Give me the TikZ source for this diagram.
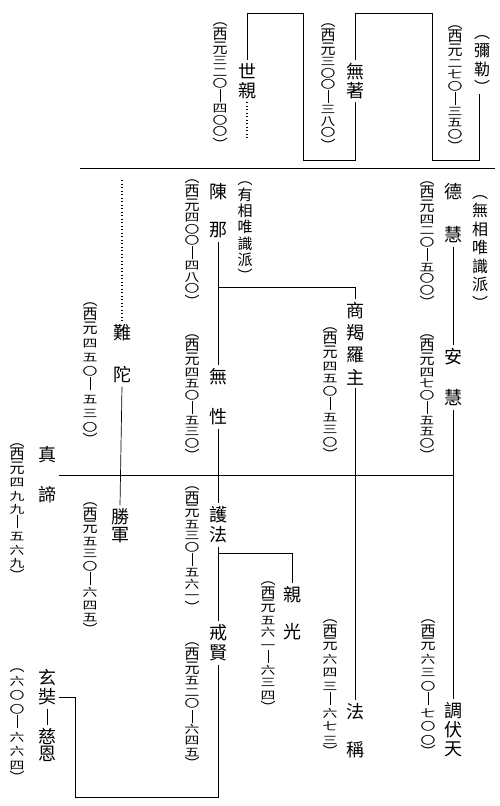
\documentclass[tikz,border=0pt]{standalone}
\usepackage{fontspec}
\setmainfont{Noto Sans CJK TC}
\newfontfamily\datefont{Noto Sans CJK TC}[FakeStretch=1.35]
\newcommand\dz[1]{{\rmfamily\fontsize{15}{15}\selectfont #1}}
\newcommand\vd{\rule[-1pt]{0.7pt}{13pt}}
\newcommand\nian[6]{\dz{︵}\\\dz{西}\\\dz{元}\\#1\\#2\\#3\\\vd\\#4\\#5\\#6\\\dz{︶}}
\begin{document}
\begin{tikzpicture}[x=1pt, y=-1pt, line width=0.7pt,
    master/.style={font=\fontsize{18}{#1}\selectfont, align=center, inner sep=3pt},
    master/.default=20,
    sect/.style={font=\fontsize{16}{#1}\selectfont, align=center, inner sep=0pt},
    years/.style={font=\datefont\fontsize{11}{#1}\selectfont, align=center, inner sep=0pt},
    years/.default=11.5,
    dotline/.style={line width=1.1pt, dash pattern=on 1.1pt off 2.4pt}]
    \useasboundingbox (0,0) rectangle (500,806);
    % 彌勒 -- 無著 -- 世親
    \node[sect=18.5] (mile) at (482,64.5) {︵\\彌\\勒\\︶};
    \node[years] (mile-y) at (455,89) {\nian{二}{七}{〇}{三}{五}{〇}};
    \node[master=19] (wuzhu) at (355,81) {無\\著};
    \node[years] (wuzhu-y) at (328,87.5) {\nian{三}{〇}{〇}{三}{八}{〇}};
    \node[master=19] (shiqin) at (247,81) {世\\親};
    \node[years] (shiqin-y) at (220,86.5) {\nian{三}{二}{〇}{四}{〇}{〇}};
    \coordinate (m1) at (432,160);
    \coordinate (m2) at (432,13);
    \coordinate (m3) at (303,160);
    \coordinate (m4) at (303,13);
    \coordinate (m5) at (247,140);
    \draw ([xshift=-3pt]mile.south) |- (m1) -- (m2) -| (wuzhu.north);
    \draw (wuzhu.south) |- (m3) -- (m4) -| (shiqin.north);
    \draw[dotline] (shiqin.south) -- (m5);
    \coordinate (s1) at (80,168);
    \coordinate (s2) at (495,168);
    \draw (s1) -- (s2);

    % 無相唯識派
    \node[master=43] (dehui) at (453,213.5) {德\\慧};
    \node[sect=18.5] (wuxiang) at (480,252.5) {︵\\無\\相\\唯\\識\\派\\︶};
    \node[years] (dehui-y) at (427,245) {\nian{四}{二}{〇}{五}{〇}{〇}};
    \node[master=41] (anhui) at (453,377.5) {安\\慧};
    \node[years] (anhui-y) at (427,398) {\nian{四}{七}{〇}{五}{五}{〇}};
    \node[master=19] (tiaofutian) at (453,730) {調\\伏\\天};
    \node[years=13.5] (tiaofutian-y) at (428,689) {\nian{六}{三}{〇}{七}{〇}{〇}};
    \draw (dehui.south) -- (anhui.north);
    \draw (anhui.south) -- (tiaofutian.north);

    % 有相唯識派
    \node[master=38] (chenna) at (218,211) {陳\\那};
    \node[sect=16.2, font=\fontsize{15}{16.2}\selectfont] (youxiang) at (245,231.5) {︵\\有\\相\\唯\\識\\派\\︶};
    \node[years] (chenna-y) at (192,243.5) {\nian{四}{〇}{〇}{四}{八}{〇}};
    \node[master=22.3] (shangjieluo) at (355,343.5) {商\\羯\\羅\\主};
    \node[years=12.5] (shangjieluo-y) at (330,394) {\nian{四}{五}{〇}{五}{三}{〇}};
    \node[master=40] (wuxing) at (218,397) {無\\性};
    \node[years] (wuxing-y) at (192,398) {\nian{四}{五}{〇}{五}{三}{〇}};
    \node[master=38] (facheng) at (355,731) {法\\稱};
    \node[years=13.5] (facheng-y) at (330,689) {\nian{六}{四}{三}{六}{七}{三}};
    \coordinate (b1) at (218,287);
    \draw (chenna.south) -- (wuxing.north);
    \draw (b1) -| (shangjieluo.north);
    \draw (shangjieluo.south) -- (facheng.north);

    % 難陀 -- 勝軍, 真諦
    \node[master=42] (nantuo) at (122,354) {難\\陀};
    \node[years=14] (nantuo-y) at (90,374) {\nian{四}{五}{〇}{五}{三}{〇}};
    \node[master=18] (shengjun) at (120,526) {勝\\軍};
    \node[years=12.5] (shengjun-y) at (90,569) {\nian{五}{三}{〇}{六}{四}{五}};
    \node[master=40] (zhendi) at (47,475) {真\\諦};
    \node[years=13.5] (zhendi-y) at (17,512.5) {\nian{四}{九}{九}{五}{六}{九}};
    \coordinate (n0) at (122,180);
    \draw[dotline] (n0) -- (nantuo.north);
    \draw (nantuo.south) -- (shengjun.north);
    \draw (zhendi.east) -- (zhendi.east -| anhui);

    % 護法 -- 親光, 戒賢 -- 玄奘
    \node[master=20] (hufa) at (218,525) {護\\法};
    \node[years] (hufa-y) at (192,550) {\nian{五}{三}{〇}{五}{六}{一}};
    \node[master=37] (qinguang) at (292,613.5) {親\\光};
    \node[years=12.5] (qinguang-y) at (268,647.5) {\nian{五}{六}{一}{六}{三}{四}};
    \node[master=20] (jiexian) at (218,643) {戒\\賢};
    \node[years] (jiexian-y) at (192,706.5) {\nian{五}{二}{〇}{六}{四}{五}};
    \node[master=19] (xuanzang) at (47,687.5) {玄\\奘};
    \node[master=17] (cien) at (47,745) {慈\\恩};
    \node[years=14] (xuanzang-y) at (17,726) {\dz{︵}\\六\\〇\\〇\\\vd\\六\\六\\四\\\dz{︶}};
    \coordinate (b2) at (218,553);
    \coordinate (c1) at (75,797);
    \coordinate (c2) at (75,697);
    \draw (wuxing.south) -- (hufa.north);
    \draw (hufa.south) -- (jiexian.north);
    \draw (b2) -| (qinguang.north);
    \draw (jiexian.south) |- (c1) -- (c2) -- (c2 -| xuanzang.east);
    \draw (xuanzang.south) -- (cien.north);
\end{tikzpicture}
\end{document}
